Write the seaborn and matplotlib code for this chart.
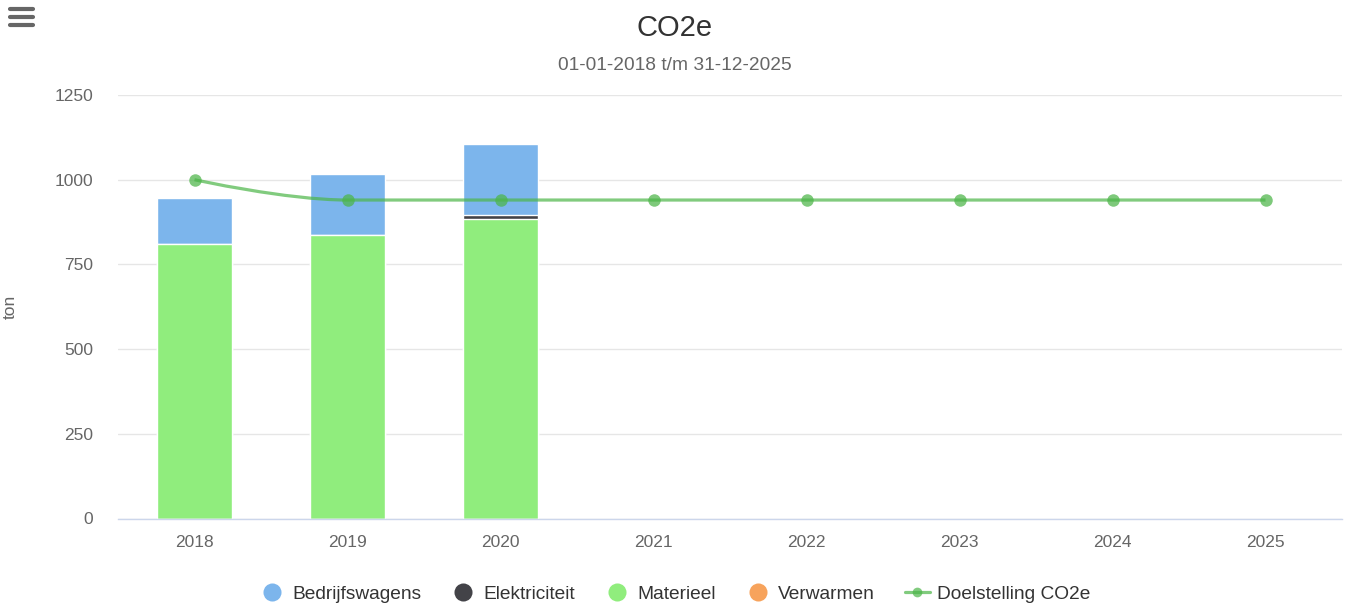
import numpy as np
import pandas as pd
import matplotlib
matplotlib.use("Agg")
import matplotlib.pyplot as plt
import seaborn as sns
from matplotlib.path import Path
from matplotlib.patches import PathPatch
from matplotlib.lines import Line2D

years = ["2018", "2019", "2020", "2021", "2022", "2023", "2024", "2025"]
bar_years = ["2018", "2019", "2020"]
bedrijfswagens = [136, 179, 209]
elektriciteit = [0, 0, 12]
materieel = [810, 838, 884]
verwarmen = [0, 0, 0]
doelstelling = [1000, 940, 940, 940, 940, 940, 940, 940]

colors = {"Bedrijfswagens": "#7cb5ec", "Elektriciteit": "#434348",
          "Materieel": "#90ed7d", "Verwarmen": "#f7a35c"}
goal_color = "#4cb548"

sns.set_theme(style="white")
plt.rcParams["font.family"] = ["Liberation Sans", "DejaVu Sans"]

df = pd.DataFrame({"jaar": bar_years, "Verwarmen": verwarmen, "Materieel": materieel,
                   "Elektriciteit": elektriciteit, "Bedrijfswagens": bedrijfswagens})

fig = plt.figure(figsize=(13.5, 6.08), dpi=100)
ax = fig.add_axes([118 / 1350, 1 - 518.5 / 608, 1224 / 1350, 423.5 / 608])

# stacked bars: draw cumulative totals from top layer down
stack = ["Verwarmen", "Materieel", "Elektriciteit", "Bedrijfswagens"]
cum = df[stack].cumsum(axis=1)
for name in reversed(stack):
    sns.barplot(x=df["jaar"], y=cum[name], order=years, color=colors[name],
                width=0.49, edgecolor="white", linewidth=1, saturation=1, ax=ax, zorder=2)

# target line, spline like the original (highcharts style control points)
xs = np.arange(len(doelstelling), dtype=float)
ys = np.array(doelstelling, dtype=float)
verts = [(xs[0], ys[0])]
codes = [Path.MOVETO]
prev_right = (xs[0], ys[0])
for i in range(1, len(xs)):
    x, y = xs[i], ys[i]
    lx, ly = xs[i - 1], ys[i - 1]
    if i < len(xs) - 1:
        nx, ny = xs[i + 1], ys[i + 1]
        lcx, lcy = (1.5 * x + lx) / 2.5, (1.5 * y + ly) / 2.5
        rcx, rcy = (1.5 * x + nx) / 2.5, (1.5 * y + ny) / 2.5
        corr = (rcy - lcy) * (rcx - x) / (rcx - lcx) + y - rcy
        lcy += corr
        rcy += corr
        if lcy > ly and lcy > y:
            lcy = max(ly, y); rcy = 2 * y - lcy
        elif lcy < ly and lcy < y:
            lcy = min(ly, y); rcy = 2 * y - lcy
        if rcy > ny and rcy > y:
            rcy = max(ny, y); lcy = 2 * y - rcy
        elif rcy < ny and rcy < y:
            rcy = min(ny, y); lcy = 2 * y - rcy
    else:
        lcx, lcy, rcx, rcy = x, y, x, y
    verts += [prev_right, (lcx, lcy), (x, y)]
    codes += [Path.CURVE4, Path.CURVE4, Path.CURVE4]
    prev_right = (rcx, rcy)
ax.add_patch(PathPatch(Path(verts, codes), facecolor="none", edgecolor=goal_color,
                       lw=2.3, alpha=0.7, zorder=3))
ax.plot(xs, ys, "o", color=goal_color, ms=9, alpha=0.72, mec="none", zorder=4)

ax.set_xlim(-0.5, 7.5)
ax.set_ylim(0, 1250)
ax.set_yticks([0, 250, 500, 750, 1000, 1250])
ax.yaxis.grid(True, color="#e6e6e6", lw=1, zorder=0)
ax.set_axisbelow(True)
for s in ["top", "right", "left"]:
    ax.spines[s].set_visible(False)
ax.spines["bottom"].set_color("#ccd6eb")
ax.spines["bottom"].set_linewidth(1)
ax.tick_params(axis="both", length=0, labelsize=12.5, labelcolor="#666666")
ax.tick_params(axis="x", pad=12)
ax.tick_params(axis="y", pad=18)
ax.set_xlabel("")
ax.set_ylabel("")
fig.text(10 / 1350, 1 - 307 / 608, "ton", rotation=90, ha="center", va="center",
         fontsize=12.5, color="#666666")

fig.text(0.5, 1 - 28 / 608, "CO2e", ha="center", va="center", fontsize=21, color="#333333")
fig.text(0.5, 1 - 65 / 608, "01-01-2018 t/m 31-12-2025", ha="center", va="center",
         fontsize=13.8, color="#666666")

# menu icon
for yy in [9, 16.7, 24.5]:
    fig.add_artist(Line2D([10 / 1350, 33 / 1350], [1 - yy / 608, 1 - yy / 608],
                          color="#666666", lw=3, solid_capstyle="round"))

handles = [Line2D([], [], ls="none", marker="o", ms=13, color=colors[n], mec="none", label=n)
           for n in ["Bedrijfswagens", "Elektriciteit", "Materieel", "Verwarmen"]]
handles.append(Line2D([], [], color=goal_color, lw=2.3, alpha=0.7, marker="o", ms=7,
                      mec="none", label="Doelstelling CO2e"))
fig.legend(handles=handles, loc="center", bbox_to_anchor=(0.5, 1 - 594 / 608), ncol=5,
           frameon=False, fontsize=13.8, handlelength=1.3, handletextpad=0.4,
           columnspacing=1.55, labelcolor="#333333")

fig.savefig("out.png", dpi=100)
